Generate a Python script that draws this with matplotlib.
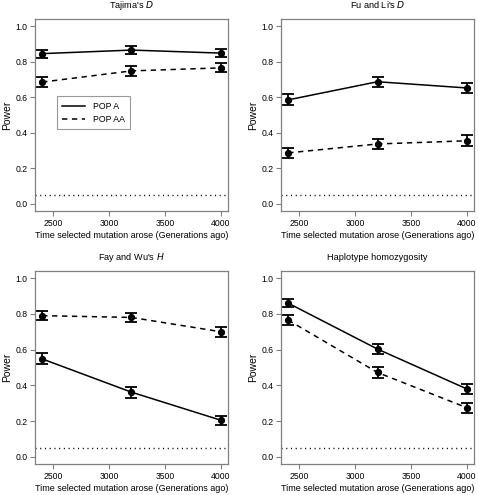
import matplotlib
matplotlib.use("Agg")
import matplotlib.pyplot as plt

plt.rcParams['font.family'] = ['Liberation Sans', 'DejaVu Sans']

gens = [2400, 3200, 4000]

# power for each test, POP A and POP AA, with 95% CI half widths
taj_a = [0.845, 0.865, 0.848]
taj_a_err = [0.022, 0.021, 0.022]
taj_aa = [0.685, 0.748, 0.765]
taj_aa_err = [0.029, 0.027, 0.026]

fuli_a = [0.585, 0.687, 0.652]
fuli_a_err = [0.031, 0.029, 0.030]
fuli_aa = [0.287, 0.337, 0.355]
fuli_aa_err = [0.028, 0.029, 0.030]

faywu_a = [0.548, 0.362, 0.205]
faywu_a_err = [0.031, 0.030, 0.025]
faywu_aa = [0.790, 0.780, 0.700]
faywu_aa_err = [0.025, 0.026, 0.028]

hap_a = [0.860, 0.603, 0.380]
hap_a_err = [0.022, 0.030, 0.030]
hap_aa = [0.765, 0.472, 0.275]
hap_aa_err = [0.026, 0.031, 0.028]

titles = ["Tajima's $\\it{D}$", "Fu and Li's $\\it{D}$", "Fay and Wu's $\\it{H}$", "Haplotype homozygosity"]
panels = [(taj_a, taj_a_err, taj_aa, taj_aa_err),
          (fuli_a, fuli_a_err, fuli_aa, fuli_aa_err),
          (faywu_a, faywu_a_err, faywu_aa, faywu_aa_err),
          (hap_a, hap_a_err, hap_aa, hap_aa_err)]
alpha_level = 0.05

fig = plt.figure(figsize=(4.78, 4.95), dpi=100)
rects = [[0.0732, 0.5737, 0.4037, 0.388],
         [0.5879, 0.5737, 0.4037, 0.388],
         [0.0732, 0.0626, 0.4037, 0.390],
         [0.5879, 0.0626, 0.4037, 0.390]]
grey = '#808080'

for i in range(4):
    ax = fig.add_axes(rects[i])
    a, ae, aa, aae = panels[i]
    ax.errorbar(gens, a, yerr=ae, fmt='-o', color='black', lw=1.1, ms=4.2,
                capsize=4, capthick=1.3, elinewidth=1.3, label='POP A')
    ax.errorbar(gens, aa, yerr=aae, fmt='o', ls=(0, (3.5, 3)), color='black', lw=1.1, ms=4.2,
                capsize=4, capthick=1.3, elinewidth=1.3, label='POP AA')
    ax.axhline(alpha_level, color='black', lw=1.0, ls=(0, (0.8, 2.6)))
    ax.set_xlim(2336, 4064)
    ax.set_ylim(-0.04, 1.04)
    ax.set_xticks([2500, 3000, 3500, 4000])
    ax.set_yticks([0.0, 0.2, 0.4, 0.6, 0.8, 1.0])
    ax.set_yticklabels(['0.0', '0.2', '0.4', '0.6', '0.8', '1.0'])
    for s in ax.spines.values():
        s.set_color(grey)
        s.set_linewidth(0.9)
    ax.tick_params(direction='out', length=3.5, width=0.8, color=grey, labelsize=6.2, pad=2.0)
    ax.set_title(titles[i], fontsize=6.6, pad=8)
    ax.set_ylabel('Power', fontsize=7.5, labelpad=2.5)
    ax.set_xlabel('Time selected mutation arose (Generations ago)', fontsize=6.5, labelpad=2.5)
    if i == 0:
        h, l = ax.get_legend_handles_labels()
        h = [plt.Line2D([], [], color='black', lw=1.1),
             plt.Line2D([], [], color='black', lw=1.1, ls=(0, (3.5, 3)))]
        leg = ax.legend(h, l, loc='upper left', bbox_to_anchor=(0.09, 0.62), fontsize=6.3,
                        frameon=True, fancybox=False, edgecolor=grey, handlelength=2.6,
                        borderpad=0.6, labelspacing=0.5, handletextpad=0.9)
        leg.get_frame().set_linewidth(0.8)

fig.savefig('out.png', dpi=100)
